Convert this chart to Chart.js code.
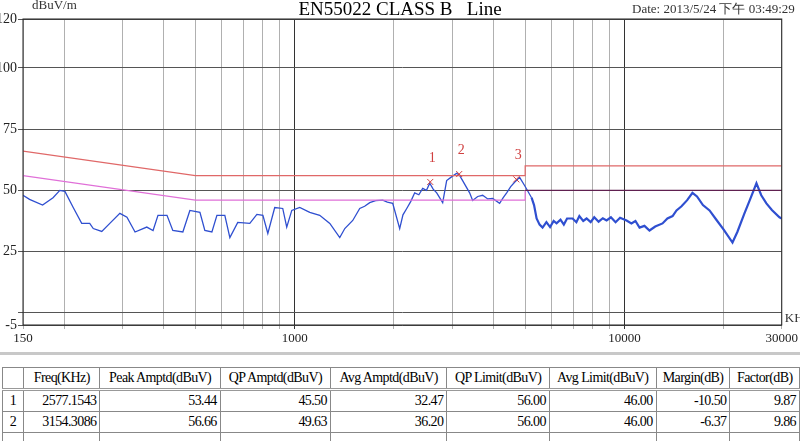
<!DOCTYPE html>
<html>
<head>
<meta charset="utf-8">
<script src="https://cdn.jsdelivr.net/npm/chart.js@4/dist/chart.umd.min.js"></script>
<style>
  body { margin: 0; background: #fff; width: 800px; height: 441px; overflow: hidden; position: relative; }
  #wrap { position: absolute; left: 0; top: 0; width: 800px; height: 352px; }
  #sep { position: absolute; left: 0; top: 352px; width: 800px; height: 3px; background: #c8c8c8; }
  table { position: absolute; left: 2px; top: 367px; border-collapse: collapse; font-family: "Times New Roman", "Liberation Serif", serif; font-size: 14px; letter-spacing: -0.6px; }
  td, th { border: 1px solid #888; height: 20px; padding: 0 3px; font-weight: normal; white-space: nowrap; }
  th { border-bottom: 3px double #999; }
  td { text-align: right; }
</style>
</head>
<body>
<div id="wrap"><canvas id="myChart"></canvas></div>
<div id="sep"></div>
<table id="tbl"></table>
<script>
// measured trace (kHz, dBuV)
var traceFreq = [150, 157, 172, 185, 194, 201, 213, 226, 239, 245, 260, 275, 295, 310, 328, 356, 372, 385, 410, 427,
  458, 481, 516, 534, 561, 581, 614, 636, 672, 731, 768, 801, 829, 870, 920, 946, 980, 1036, 1111, 1191,
  1278, 1370, 1419, 1500, 1575, 1630, 1689, 1760, 1849, 1910, 1983, 2082, 2130, 2187, 2250, 2312, 2380, 2445, 2510, 2568,
  2630, 2696, 2811, 2890, 2990, 3099, 3160, 3231, 3393, 3465, 3590, 3716, 3850, 3984, 4183, 4290, 4394, 4520, 4644, 4810,
  4980, 5229, 5320, 5416, 5530, 5646, 5800, 5950, 6100, 6226, 6400, 6550, 6700, 6963, 7150, 7300, 7500, 7679, 7900, 8100,
  8350, 8600, 8829, 9100, 9400, 9700, 10150, 10500, 10800, 11114, 11500, 11914, 12400, 13048, 13500, 14000, 14385, 14900, 15500, 16080,
  16600, 17300, 18120, 19000, 20000, 21270, 22000, 23120, 24000, 25140, 26000, 26950, 28000, 29520, 30000];
var traceLevel = [48, 46.3, 44, 47, 50, 49.6, 43, 36.5, 36.5, 34.4, 33.2, 36.5, 40.6, 39, 33, 35, 33.6, 39.8, 39.8, 33.6,
  33, 41.8, 41, 33.6, 33, 39.8, 39.8, 30.7, 36.9, 36.5, 40.2, 39.8, 32.4, 43, 42.6, 35, 41.8, 43, 41, 39.8,
  36.5, 30.7, 34.4, 37.7, 42.6, 43.5, 45, 45.8, 46, 45.2, 44.7, 34.4, 40, 42.6, 45.5, 49, 48.2, 50.8, 50, 52.9,
  50.5, 49, 45, 54, 55.5, 57, 56.2, 54, 49, 45.9, 47.5, 48, 46.5, 46.7, 44.7, 47, 49, 51.5, 53.3, 55.3,
  52, 47, 44, 38.5, 36, 34.8, 37, 35, 37.5, 36.5, 38, 36, 38.5, 38.5, 37, 39.5, 37.5, 38.5, 37, 39,
  37.2, 38.6, 37.7, 39, 37, 38.8, 37.7, 36.5, 37.5, 34.8, 35.5, 33.6, 35.2, 36.5, 38.5, 39.5, 41.8, 43.5, 46, 49,
  47.5, 44, 41.8, 38, 34, 28.7, 33, 40.6, 46, 52.9, 48, 44.7, 42, 39, 38.5];

// limit lines
var limitFreq = [150, 500, 5000, 5000, 30000];
var qpLimit = [66, 56, 56, 60, 60];
var avgLimit = [56, 46, 46, 50, 50];

// markers
var markFreq = [2577.1543, 3154.3086, 4700];
var markLevel = [53.44, 56.66, 54.5];
var markLabels = ['1', '2', '3'];

var xTicks = [150, 200, 300, 400, 500, 600, 700, 800, 900, 1000, 2000, 3000, 4000, 5000, 6000, 7000, 8000, 9000, 10000, 20000, 30000];
var xLabelled = [150, 1000, 10000, 30000];
var yTicks = [-5, 0, 25, 50, 75, 100, 120];

var tableHead = ['', 'Freq(KHz)', 'Peak Amptd(dBuV)', 'QP Amptd(dBuV)', 'Avg Amptd(dBuV)', 'QP Limit(dBuV)', 'Avg Limit(dBuV)', 'Margin(dB)', 'Factor(dB)'];
var tableRows = [
  ['1', '2577.1543', '53.44', '45.50', '32.47', '56.00', '46.00', '-10.50', '9.87'],
  ['2', '3154.3086', '56.66', '49.63', '36.20', '56.00', '46.00', '-6.37', '9.86'],
  ['', '', '', '', '', '', '', '', '']
];
var colWidths = [18, 76, 119, 108, 115, 100, 104, 70, 66];

var SERIF = "'Times New Roman', 'Liberation Serif', serif";

function pts(xs, ys) {
  return xs.map(function(x, i) { return {x: x, y: ys[i]}; });
}

var textPlugin = {
  id: 'texts',
  afterDraw: function(chart) {
    var c = chart.ctx;
    var a = chart.chartArea;
    c.save();
    c.fillStyle = '#000';
    c.font = '19px ' + SERIF;
    c.textAlign = 'center';
    c.textBaseline = 'middle';
    c.fillText('EN55022 CLASS B   Line', 400, 10);
    c.font = '13px ' + SERIF;
    c.fillStyle = '#333';
    c.textAlign = 'left';
    c.fillText('dBuV/m', 32, 6);
    c.fillText('Date: 2013/5/24 \u4e0b\u5348 03:49:29', 632, 10);
    c.fillText('KH', a.right + 3, 319);
    // markers
    var meta = chart.getDatasetMeta(3);
    c.strokeStyle = '#d04040';
    c.fillStyle = '#d04040';
    c.lineWidth = 1;
    c.textAlign = 'center';
    c.font = '14px ' + SERIF;
    meta.data.forEach(function(p, i) {
      c.beginPath();
      c.moveTo(p.x - 3, p.y - 3); c.lineTo(p.x + 3, p.y + 3);
      c.moveTo(p.x + 3, p.y - 3); c.lineTo(p.x - 3, p.y + 3);
      c.stroke();
      c.fillText(markLabels[i], p.x + 2, p.y - 24);
    });
    // frame
    c.strokeStyle = '#222';
    c.strokeRect(a.left, a.top, a.right - a.left, a.bottom - a.top);
    c.restore();
  }
};

new Chart(document.getElementById('myChart'), {
  type: 'line',
  data: {
    datasets: [
      { data: pts(limitFreq, qpLimit), borderColor: '#e06868', borderWidth: 1.2, pointRadius: 0, tension: 0 },
      { data: pts(limitFreq, avgLimit), borderColor: '#e070d8', borderWidth: 1.2, pointRadius: 0, tension: 0,
        segment: { borderColor: function(s) { return s.p0.parsed.x >= 5000 && s.p1.parsed.x > 5000 ? '#602050' : undefined; } } },
      { data: pts(traceFreq, traceLevel), borderColor: '#2f4fd0', borderWidth: 1.3, pointRadius: 0, tension: 0,
        segment: { borderWidth: function(s) { return s.p0.parsed.x >= 5000 ? 2.2 : undefined; } } },
      { data: pts(markFreq, markLevel), showLine: false, pointRadius: 0 }
    ]
  },
  plugins: [textPlugin],
  options: {
    responsive: true,
    maintainAspectRatio: false,
    animation: false,
    layout: { padding: { top: 19, right: 18, left: 0, bottom: 0 } },
    plugins: { legend: { display: false }, tooltip: { enabled: false } },
    scales: {
      x: {
        type: 'logarithmic', min: 150, max: 30000,
        afterBuildTicks: function(s) { s.ticks = xTicks.map(function(v) { return {value: v}; }); },
        afterFit: function(s) { s.height = 27; },
        ticks: {
          autoSkip: false, maxRotation: 0, color: '#222', padding: 2,
          font: { family: SERIF, size: 13 },
          callback: function(v) { return xLabelled.indexOf(v) >= 0 ? String(v) : ''; }
        },
        grid: {
          color: function(ctx) { var v = ctx.tick && ctx.tick.value; return (v === 1000 || v === 10000) ? '#333' : '#b0b0b0'; },
          tickLength: 4
        },
        border: { display: false }
      },
      y: {
        min: -5, max: 120,
        afterBuildTicks: function(s) { s.ticks = yTicks.map(function(v) { return {value: v}; }); },
        afterFit: function(s) { s.width = 23; },
        ticks: {
          color: '#222', padding: 1,
          font: { family: SERIF, size: 14 },
          callback: function(v) { return v === 0 ? '' : String(v); }
        },
        grid: { color: '#555', tickLength: 5 },
        border: { display: false }
      }
    }
  }
});

// results table
var tbl = document.getElementById('tbl');
var h = '<tr>' + tableHead.map(function(t, i) { return '<th style="width:' + colWidths[i] + 'px">' + t + '</th>'; }).join('') + '</tr>';
tableRows.forEach(function(r) {
  h += '<tr>' + r.map(function(t, i) { return '<td' + (i === 0 ? ' style="text-align:center"' : '') + '>' + t + '</td>'; }).join('') + '</tr>';
});
tbl.innerHTML = h;
</script>
</body>
</html>
